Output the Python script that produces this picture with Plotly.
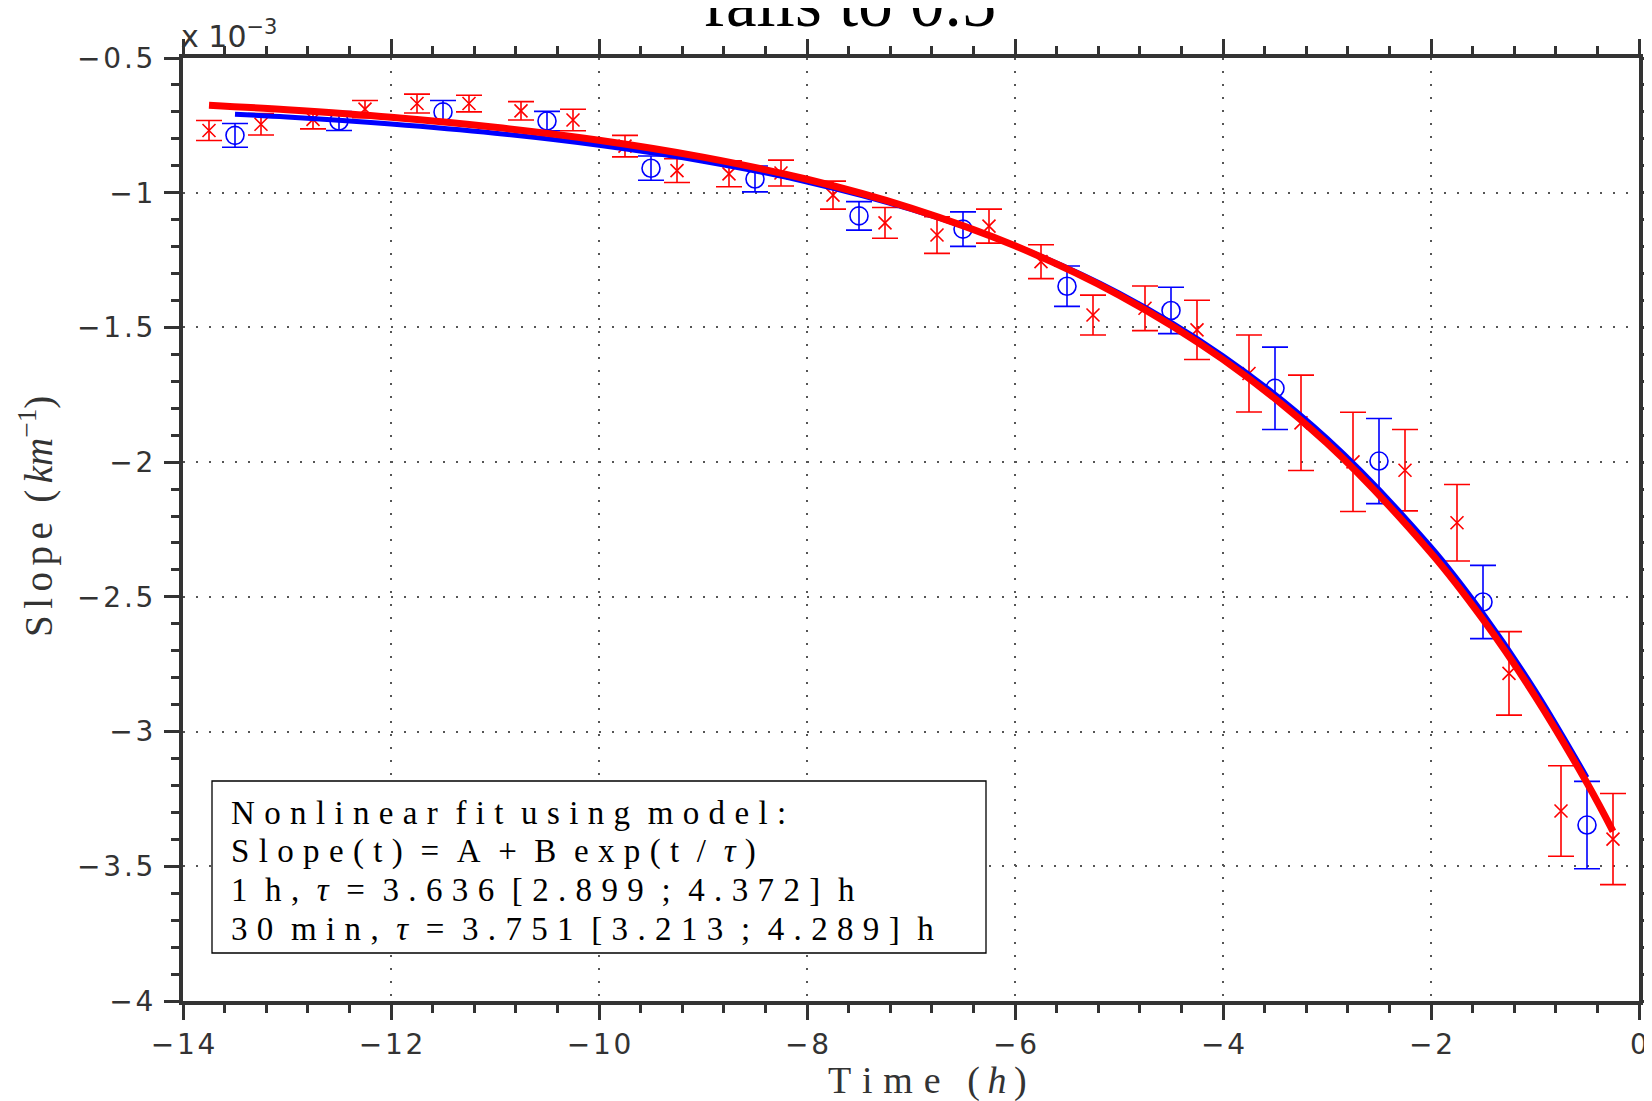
import plotly.graph_objects as go

# ---------------- data (slope values in units of 1e-3 km^-1) ----------------
t_1h = [-13.5, -12.5, -11.5, -10.5, -9.5, -8.5, -7.5, -6.5, -5.5, -4.5, -3.5, -2.5, -1.5, -0.5]
slope_1h = [-0.787, -0.734, -0.700, -0.734, -0.909, -0.949, -1.086, -1.135, -1.347, -1.437,
            -1.726, -1.996, -2.519, -3.347]
err_1h = [0.044, 0.035, 0.042, 0.036, 0.045, 0.048, 0.053, 0.064, 0.075, 0.086,
          0.153, 0.158, 0.136, 0.162]

t_30 = [-13.75, -13.25, -12.75, -12.25, -11.75, -11.25, -10.75, -10.25, -9.75, -9.25,
        -8.75, -8.25, -7.75, -7.25, -6.75, -6.25, -5.75, -5.25, -4.75, -4.25,
        -3.75, -3.25, -2.75, -2.25, -1.75, -1.25, -0.75, -0.25]
slope_30 = [-0.769, -0.746, -0.728, -0.690, -0.669, -0.669, -0.696, -0.730, -0.827, -0.918,
            -0.930, -0.927, -1.009, -1.112, -1.157, -1.124, -1.256, -1.454, -1.429, -1.509,
            -1.671, -1.854, -1.999, -2.030, -2.225, -2.784, -3.295, -3.399]
err_30 = [0.037, 0.040, 0.035, 0.032, 0.035, 0.031, 0.034, 0.040, 0.040, 0.044,
          0.048, 0.048, 0.052, 0.057, 0.068, 0.063, 0.063, 0.074, 0.083, 0.110,
          0.143, 0.177, 0.184, 0.151, 0.142, 0.155, 0.168, 0.169]

# fitted curves
fit_t_1h = [-13.5, -13, -12, -11, -10, -9, -8, -7, -6, -5, -4, -3, -2, -1.5, -1, -0.5]
fit_1h = [-0.709, -0.719, -0.745, -0.779, -0.824, -0.883, -0.960, -1.062, -1.196, -1.372,
          -1.605, -1.911, -2.314, -2.561, -2.845, -3.170]
fit_t_30 = [-13.75, -13, -12, -11, -10, -9, -8, -7, -6, -5, -4, -3, -2, -1.5, -1, -0.5, -0.25]
fit_30 = [-0.675, -0.692, -0.720, -0.757, -0.805, -0.868, -0.950, -1.057, -1.197, -1.380,
          -1.619, -1.930, -2.337, -2.584, -2.868, -3.191, -3.370]

x_ticks = [-14, -12, -10, -8, -6, -4, -2, 0]
x_tick_labels = ["−14", "−12", "−10", "−8", "−6", "−4", "−2", "0"]
y_ticks = [-4, -3.5, -3, -2.5, -2, -1.5, -1, -0.5]
y_tick_labels = ["−4", "−3.5", "−3", "−2.5", "−2", "−1.5", "−1", "−0.5"]

box_lines = [
    "Nonlinear fit using model:",
    ("Slope(t) = A + B exp(t / ", "τ", ")"),
    ("1 h, ", "τ", " = 3.636 [2.899 ; 4.372] h"),
    ("30 min, ", "τ", " = 3.751 [3.213 ; 4.289] h"),
]

# ---------------- helpers ----------------
OFF = 8                      # page body margin
W, H = 1644, 1093
L, R, T, B = 175, 13, 50, 100
PW, PH = W - L - R, H - T - B


def px(xw):                  # window pixel -> paper
    return (xw - OFF - L) / PW


def py(yw):
    return (H - B - (yw - OFF)) / PH


GAP = "\u2009\u200a"
WORD = "\u00a0\u2009\u200a"


def spread(s, gap=GAP, word=WORD):
    out = []
    for i, ch in enumerate(s):
        if ch == " ":
            out.append(word)
        else:
            out.append(ch)
            if i < len(s) - 1 and s[i + 1] != " ":
                out.append(gap)
    return "".join(out)


def box_text(item):
    if isinstance(item, str):
        return spread(item)
    a, g, b = item
    return spread(a) + ("" if a.endswith(" ") else GAP) + "<i>" + g + "</i>" + \
        ("" if b.startswith(" ") else GAP) + spread(b)


def tick_spread(labels):
    return ["\u200a".join(lab) for lab in labels]


fig = go.Figure()

fig.add_trace(go.Scatter(
    x=t_30, y=slope_30, mode="markers",
    marker=dict(symbol="x-thin-open", size=13, color="#ff0000",
                line=dict(color="#ff0000", width=1.6)),
    error_y=dict(type="data", array=err_30, color="#ff0000", thickness=1.6, width=13),
    showlegend=False))
fig.add_trace(go.Scatter(
    x=t_1h, y=slope_1h, mode="markers",
    marker=dict(symbol="circle-open", size=18, color="#0000ff",
                line=dict(color="#0000ff", width=1.6)),
    error_y=dict(type="data", array=err_1h, color="#0000ff", thickness=1.6, width=13),
    showlegend=False))
fig.add_trace(go.Scatter(
    x=fit_t_1h, y=fit_1h, mode="lines",
    line=dict(color="#0000ff", width=5, shape="spline"), showlegend=False))
fig.add_trace(go.Scatter(
    x=fit_t_30, y=fit_30, mode="lines",
    line=dict(color="#ff0000", width=7, shape="spline"), showlegend=False))

axis_common = dict(
    ticks="outside", ticklen=15, tickwidth=3, tickcolor="#333333",
    showline=True, linecolor="#333333", linewidth=4, mirror="allticks",
    showgrid=True, gridcolor="#555555", griddash="2px,11px", gridwidth=1.5,
    zeroline=False, automargin=False,
    tickfont=dict(family="DejaVu Sans", size=28, color="#333333"),
)

fig.update_xaxes(range=[-14, 0], tickvals=x_ticks, ticktext=tick_spread(x_tick_labels),
                 ticklabelstandoff=0,
                 minor=dict(dtick=0.4, tick0=-14, ticks="outside", ticklen=8, tickwidth=2.5,
                            tickcolor="#333333", showgrid=False),
                 **axis_common)
fig.update_yaxes(range=[-4, -0.5], tickvals=y_ticks, ticktext=tick_spread(y_tick_labels),
                 ticklabelstandoff=5,
                 minor=dict(dtick=0.1, tick0=-4, ticks="outside", ticklen=8, tickwidth=2.5,
                            tickcolor="#333333", showgrid=False),
                 **axis_common)

serif = "Liberation Serif"
ann = []
ann.append(dict(text="falls to 0.5", x=px(849), y=py(43), xref="paper", yref="paper",
                xanchor="center", yanchor="bottom", showarrow=False,
                font=dict(family=serif, size=69, color="#000000")))
ann.append(dict(text="x 10<sup>−3</sup>", x=px(179), y=py(56), xref="paper", yref="paper",
                xanchor="left", yanchor="bottom", showarrow=False,
                font=dict(family="DejaVu Sans", size=30, color="#333333")))
ann.append(dict(text=spread("Time", "\u2009\u200a", "") + "\u00a0\u00a0\u2009(\u2009<i>h</i>\u2009)",
                x=px(927), y=py(1080), xref="paper", yref="paper",
                xanchor="center", yanchor="middle", showarrow=False,
                font=dict(family=serif, size=38, color="#333333")))
ann.append(dict(text=spread("Slope", "\u2006", "") + "\u00a0\u00a0(\u2006<i>km</i><sup>−1</sup>)",
                x=px(36), y=py(517), xref="paper", yref="paper", textangle=-90,
                xanchor="center", yanchor="middle", showarrow=False,
                font=dict(family=serif, size=39, color="#333333")))

line_y = [813, 851, 890, 929]
for item, yy in zip(box_lines, line_y):
    ann.append(dict(text=box_text(item), x=px(229), y=py(yy), xref="paper", yref="paper",
                    xanchor="left", yanchor="middle", showarrow=False,
                    font=dict(family=serif, size=33, color="#000000")))

fig.update_layout(
    width=W, height=H,
    margin=dict(l=L, r=R, t=T, b=B, autoexpand=False),
    plot_bgcolor="white", paper_bgcolor="white",
    annotations=ann,
    shapes=[dict(type="rect", xref="paper", yref="paper",
                 x0=px(212), x1=px(986), y0=py(953), y1=py(781),
                 line=dict(color="#000000", width=1.3), fillcolor="white", layer="above")],
)

fig.write_html("out.html")
